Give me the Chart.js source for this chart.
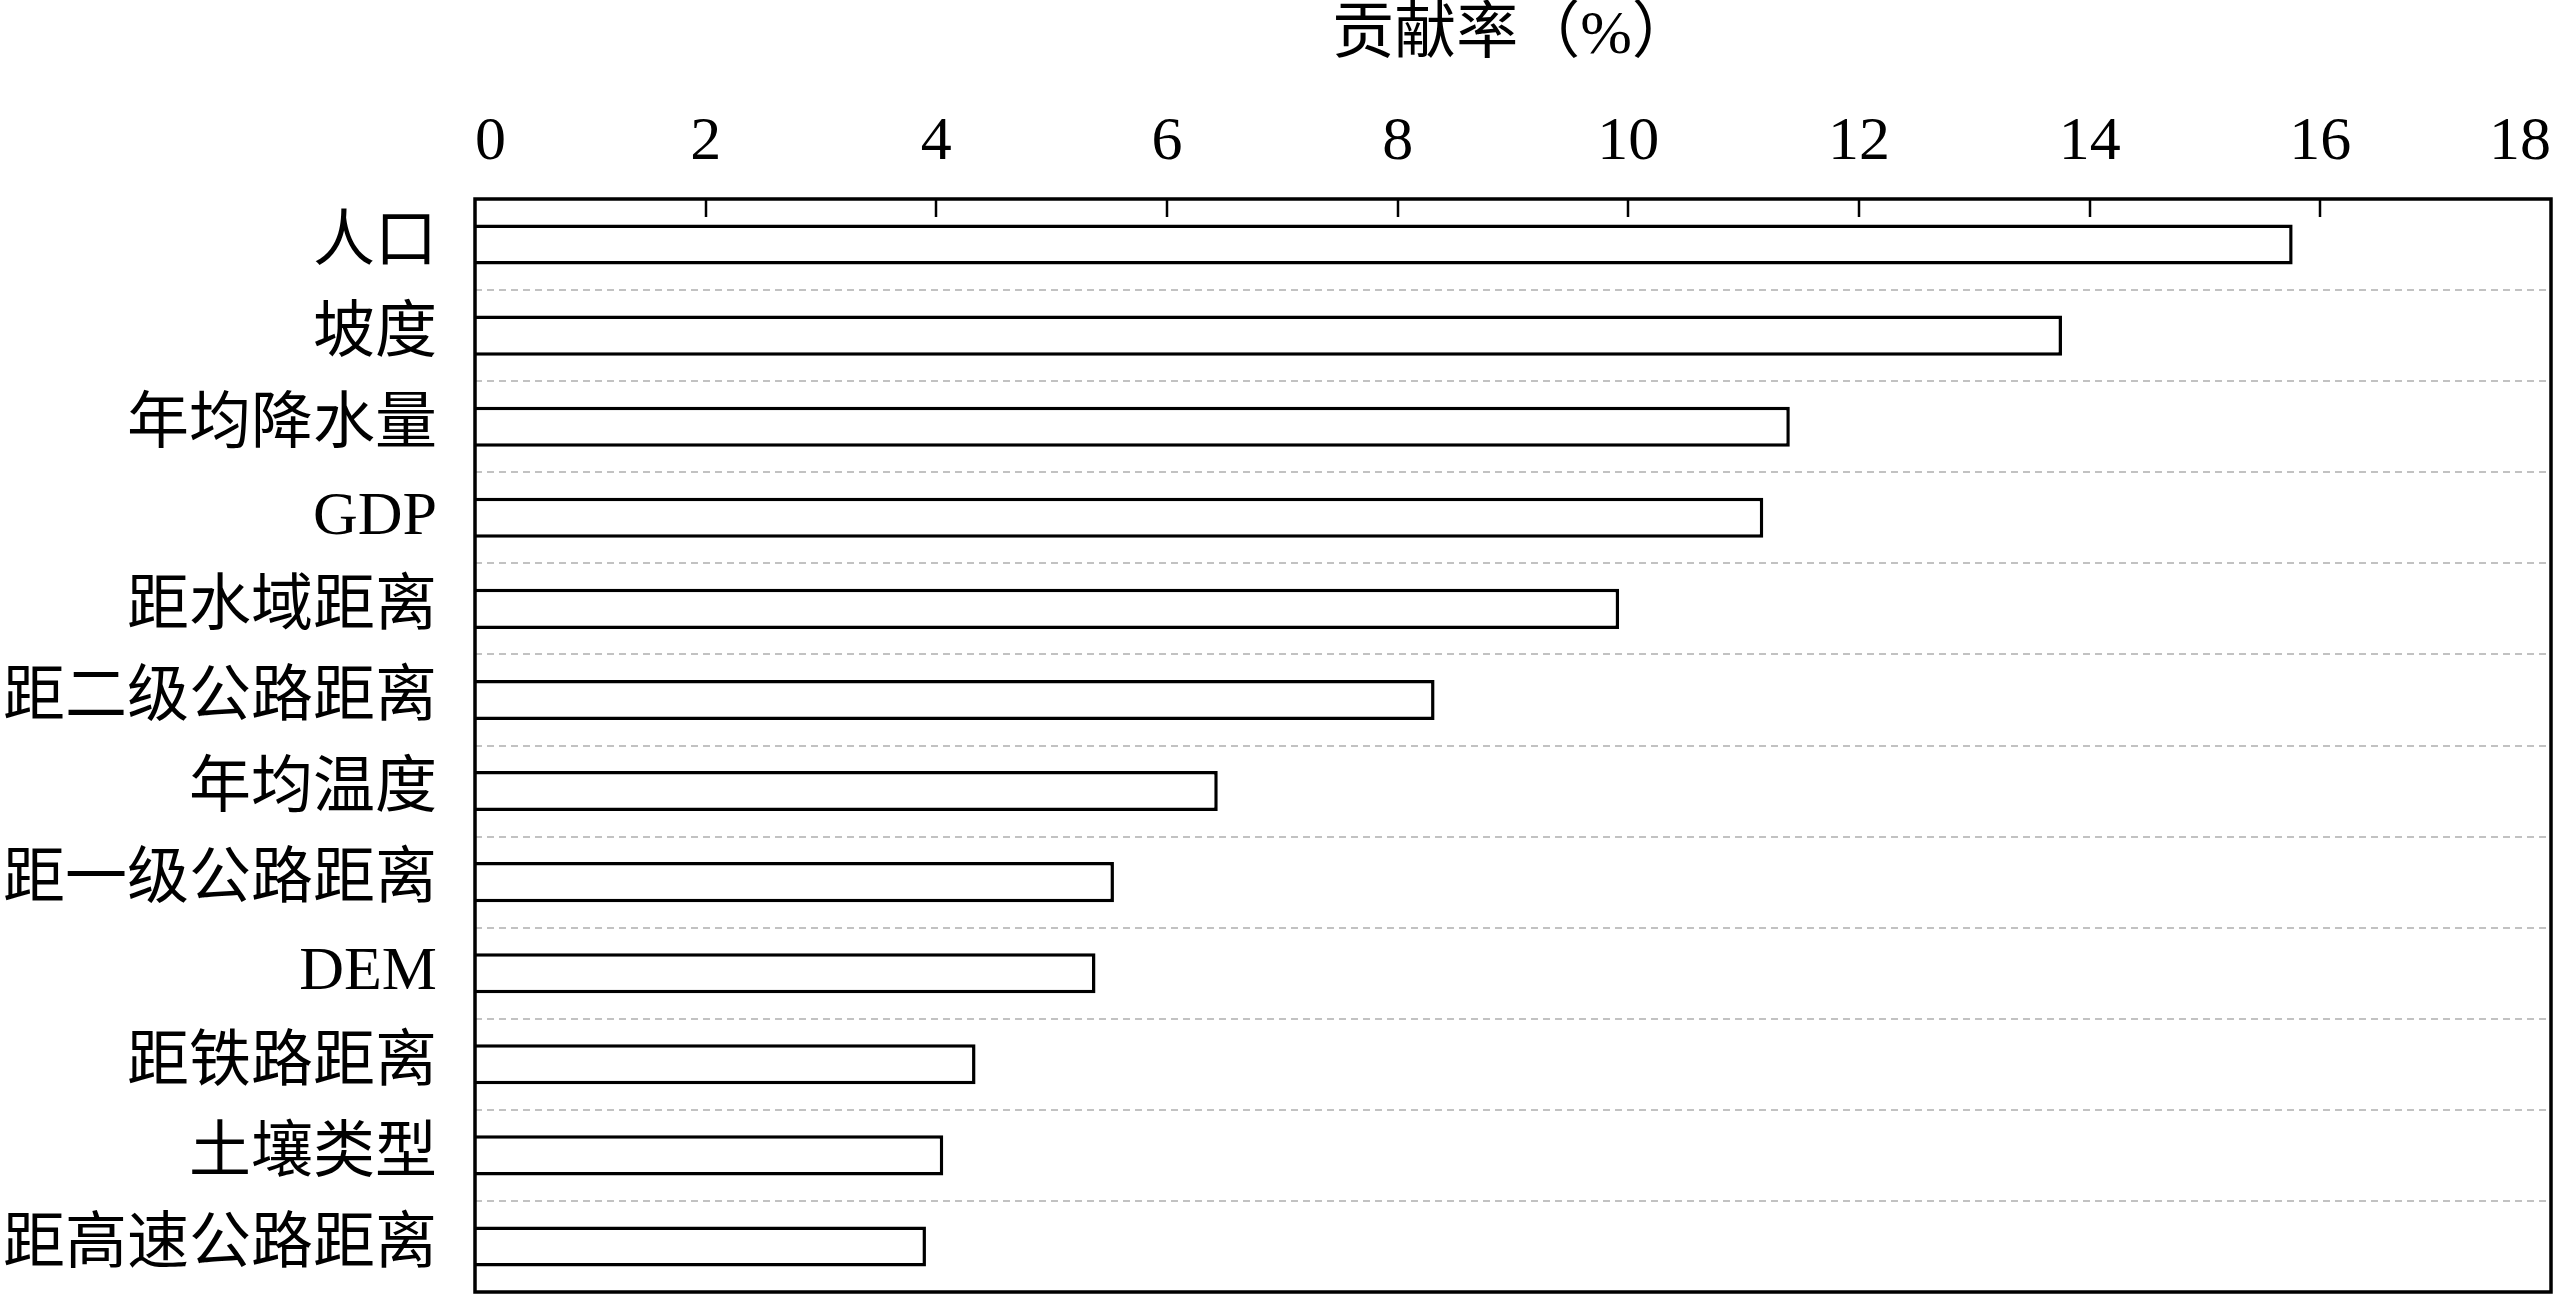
<!DOCTYPE html>
<html>
<head>
<meta charset="utf-8">
<script src="https://cdn.jsdelivr.net/npm/chart.js@4.4.1/dist/chart.umd.min.js"></script>
<style>body{margin:0;background:#fff}</style>
</head>
<body>
<canvas id="bar-chart" width="2560" height="1296"></canvas>
<script>
// data
const categories = ['人口', '坡度', '年均降水量', 'GDP', '距水域距离', '距二级公路距离',
    '年均温度', '距一级公路距离', 'DEM', '距铁路距离', '土壤类型', '距高速公路距离'];
const contribution = [15.76, 13.76, 11.40, 11.17, 9.92, 8.32, 6.44, 5.54, 5.38, 4.34, 4.06, 3.91];
const xTicks = [0, 2, 4, 6, 8, 10, 12, 14, 16, 18];

const FONT = '"Liberation Serif", "Noto Sans CJK SC", serif';

// box around the plot + tick marks pointing inward from the top edge
const framePlugin = {
    id: 'frame',
    afterDraw(chart) {
        const { ctx, chartArea: a, scales: { x } } = chart;
        ctx.save();
        ctx.strokeStyle = '#000';
        ctx.lineWidth = 2.5;
        xTicks.slice(1, -1).forEach(v => {
            const px = Math.round(x.getPixelForValue(v));
            ctx.beginPath();
            ctx.moveTo(px, a.top);
            ctx.lineTo(px, a.top + 18);
            ctx.stroke();
        });
        ctx.lineWidth = 3.5;
        ctx.strokeRect(a.left, a.top, a.right - a.left, a.bottom - a.top);
        ctx.restore();
    }
};

const barChartElem = document.getElementById('bar-chart').getContext('2d');
const barChart = new Chart(barChartElem, {
    type: 'bar',
    data: {
        labels: categories,
        datasets: [{
            label: '贡献率',
            data: contribution,
            backgroundColor: '#fff',
            borderColor: '#000',
            borderWidth: 3.5,
            barPercentage: 0.44,
            categoryPercentage: 1
        }]
    },
    options: {
        indexAxis: 'y',
        responsive: false,
        animation: false,
        layout: { padding: { left: 0, right: 9, top: 0, bottom: 4 } },
        plugins: { legend: { display: false }, tooltip: { enabled: false } },
        scales: {
            x: {
                position: 'top',
                min: 0,
                max: 18,
                ticks: {
                    stepSize: 2,
                    align: 'inner',
                    maxRotation: 0,
                    color: '#000',
                    padding: 19,
                    font: { family: FONT, size: 62 }
                },
                grid: { display: false, drawTicks: false },
                border: { display: false },
                title: {
                    display: true,
                    text: '贡献率（%）',
                    color: '#000',
                    font: { family: FONT, size: 62, lineHeight: 1 },
                    padding: { top: 6, bottom: 0 }
                },
                afterFit(s) {
                    s.height = 199;
                    s.paddingLeft = 0;
                    s.paddingRight = 0;
                }
            },
            y: {
                grid: { offset: true, color: '#c2c2c2', lineWidth: 2, drawTicks: false },
                border: { display: false, dash: [7, 5] },
                ticks: {
                    color: '#000',
                    padding: 38,
                    autoSkip: false,
                    font: { family: FONT, size: 62 }
                },
                afterFit(s) {
                    s.width = 475;
                    s.paddingTop = 0;
                    s.paddingBottom = 0;
                }
            }
        }
    },
    plugins: [framePlugin]
});
</script>
</body>
</html>
